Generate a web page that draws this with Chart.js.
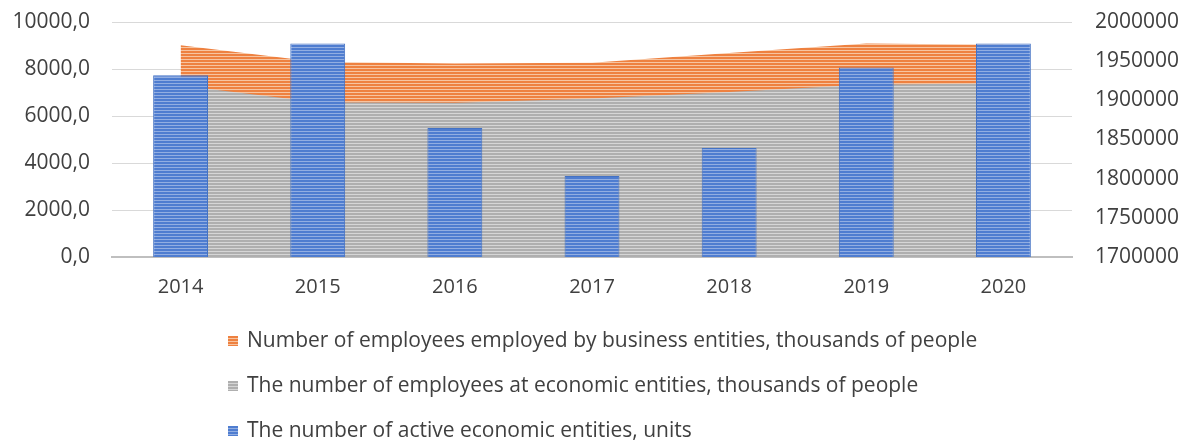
<!DOCTYPE html>
<html>
<head>
<meta charset="utf-8">
<script src="https://cdn.jsdelivr.net/npm/chart.js@4.4.1/dist/chart.umd.min.js"></script>
<style>
  html, body { margin: 0; padding: 0; background: #ffffff; }
  #wrap { position: relative; width: 1186px; height: 443px; overflow: hidden; }
  #chart { position: absolute; left: 0; top: 0; }
  .lg { position: absolute; left: 228px; font-family: "Open Sans", sans-serif; font-size: 21px; line-height: 21px; color: #404040; white-space: nowrap; }
  .lg i { position: absolute; left: 0; top: 7px; width: 10px; height: 10px; }
  .lg span { position: absolute; left: 19px; top: 0; }
</style>
</head>
<body>
<div id="wrap">
  <canvas id="chart" width="1186" height="443"></canvas>
  <div id="legend"></div>
</div>
<script>
// ---- data ----
const years = ['2014', '2015', '2016', '2017', '2018', '2019', '2020'];
const businessEmployees = [9010, 8300, 8230, 8270, 8680, 9080, 9030];      // thousands of people (left axis)
const economicEmployees = [7300, 6580, 6560, 6740, 7020, 7340, 7380];      // thousands of people (left axis)
const activeEntities = [1932000, 1972400, 1864700, 1803400, 1839200, 1941800, 1972400]; // units (right axis)

const seriesNames = [
  'Number of employees employed by business entities, thousands of people',
  'The number of employees at economic entities, thousands of people',
  'The number of active economic entities, units'
];
const leftTicks = [0, 2000, 4000, 6000, 8000, 10000];
const rightTicks = [1700000, 1750000, 1800000, 1850000, 1900000, 1950000, 2000000];

// ---- striped fills ----
function stripes(dark, light) {
  const c = document.createElement('canvas');
  c.width = 4; c.height = 3;
  const g = c.getContext('2d');
  g.fillStyle = dark; g.fillRect(0, 0, 4, 2);
  g.fillStyle = light; g.fillRect(0, 2, 4, 1);
  return g.createPattern(c, 'repeat');
}
const ctx = document.getElementById('chart').getContext('2d');
const orangeFill = stripes('#EE8140', '#F7C4A0');
const grayFill = stripes('#AFAFAF', '#D6D6D6');
const blueFill = stripes('#4F7DD0', '#92AEE2');

const yFont = { family: '"Open Sans", sans-serif', size: 21 };
const xFont = { family: '"Open Sans", sans-serif', size: 20 };

function fixVertical(width) {
  return s => { s.width = width; s.paddingTop = 0; s.paddingBottom = 0; };
}

new Chart(ctx, {
  data: {
    labels: years,
    datasets: [
      {
        type: 'bar', label: seriesNames[2], data: activeEntities, yAxisID: 'y1',
        backgroundColor: blueFill, borderColor: '#4472C4', borderWidth: 1,
        barPercentage: 0.4, categoryPercentage: 1.0, order: 0
      },
      {
        type: 'line', label: seriesNames[1], data: economicEmployees, yAxisID: 'y',
        backgroundColor: grayFill, borderWidth: 0, pointRadius: 0, fill: 'origin', tension: 0, order: 1
      },
      {
        type: 'line', label: seriesNames[0], data: businessEmployees, yAxisID: 'y',
        backgroundColor: orangeFill, borderWidth: 0, pointRadius: 0, fill: 'origin', tension: 0, order: 2
      }
    ]
  },
  options: {
    responsive: false,
    animation: false,
    layout: { padding: { top: 22, left: 0, right: 0, bottom: 0 } },
    plugins: { legend: { display: false }, tooltip: { enabled: false } },
    scales: {
      x: {
        type: 'category', offset: true,
        grid: { display: false, drawTicks: false },
        border: { display: true, color: '#BFBFBF', width: 2 },
        ticks: { font: xFont, color: '#404040', padding: 18 },
        afterFit: s => { s.height = 186; }
      },
      y: {
        type: 'linear', position: 'left', min: 0, max: 10000,
        afterBuildTicks: s => { s.ticks = leftTicks.map(v => ({ value: v })); },
        ticks: { font: yFont, color: '#404040', padding: 22,
                 callback: v => Number(v).toFixed(1).replace('.', ',') },
        grid: { color: '#D9D9D9', lineWidth: 1, drawTicks: false },
        border: { display: false },
        afterFit: fixVertical(112)
      },
      y1: {
        type: 'linear', position: 'right', min: 1700000, max: 2000000, beginAtZero: false,
        afterBuildTicks: s => { s.ticks = rightTicks.map(v => ({ value: v })); },
        ticks: { font: yFont, color: '#404040', padding: 23, callback: v => String(v) },
        grid: { display: false, drawTicks: false },
        border: { display: false },
        afterFit: fixVertical(114)
      }
    }
  }
});

// ---- legend (one item per row, left aligned) ----
const legendColors = [
  'repeating-linear-gradient(#EE8140 0 2px, #F7C4A0 2px 3px)',
  'repeating-linear-gradient(#AFAFAF 0 2px, #D6D6D6 2px 3px)',
  'repeating-linear-gradient(#4F7DD0 0 2px, #92AEE2 2px 3px)'
];
const legendTops = [329, 374, 419];
const lg = document.getElementById('legend');
seriesNames.forEach((name, i) => {
  const d = document.createElement('div');
  d.className = 'lg';
  d.style.top = legendTops[i] + 'px';
  const m = document.createElement('i');
  m.style.background = legendColors[i];
  const t = document.createElement('span');
  t.textContent = name;
  d.appendChild(m); d.appendChild(t);
  lg.appendChild(d);
});
</script>
</body>
</html>
